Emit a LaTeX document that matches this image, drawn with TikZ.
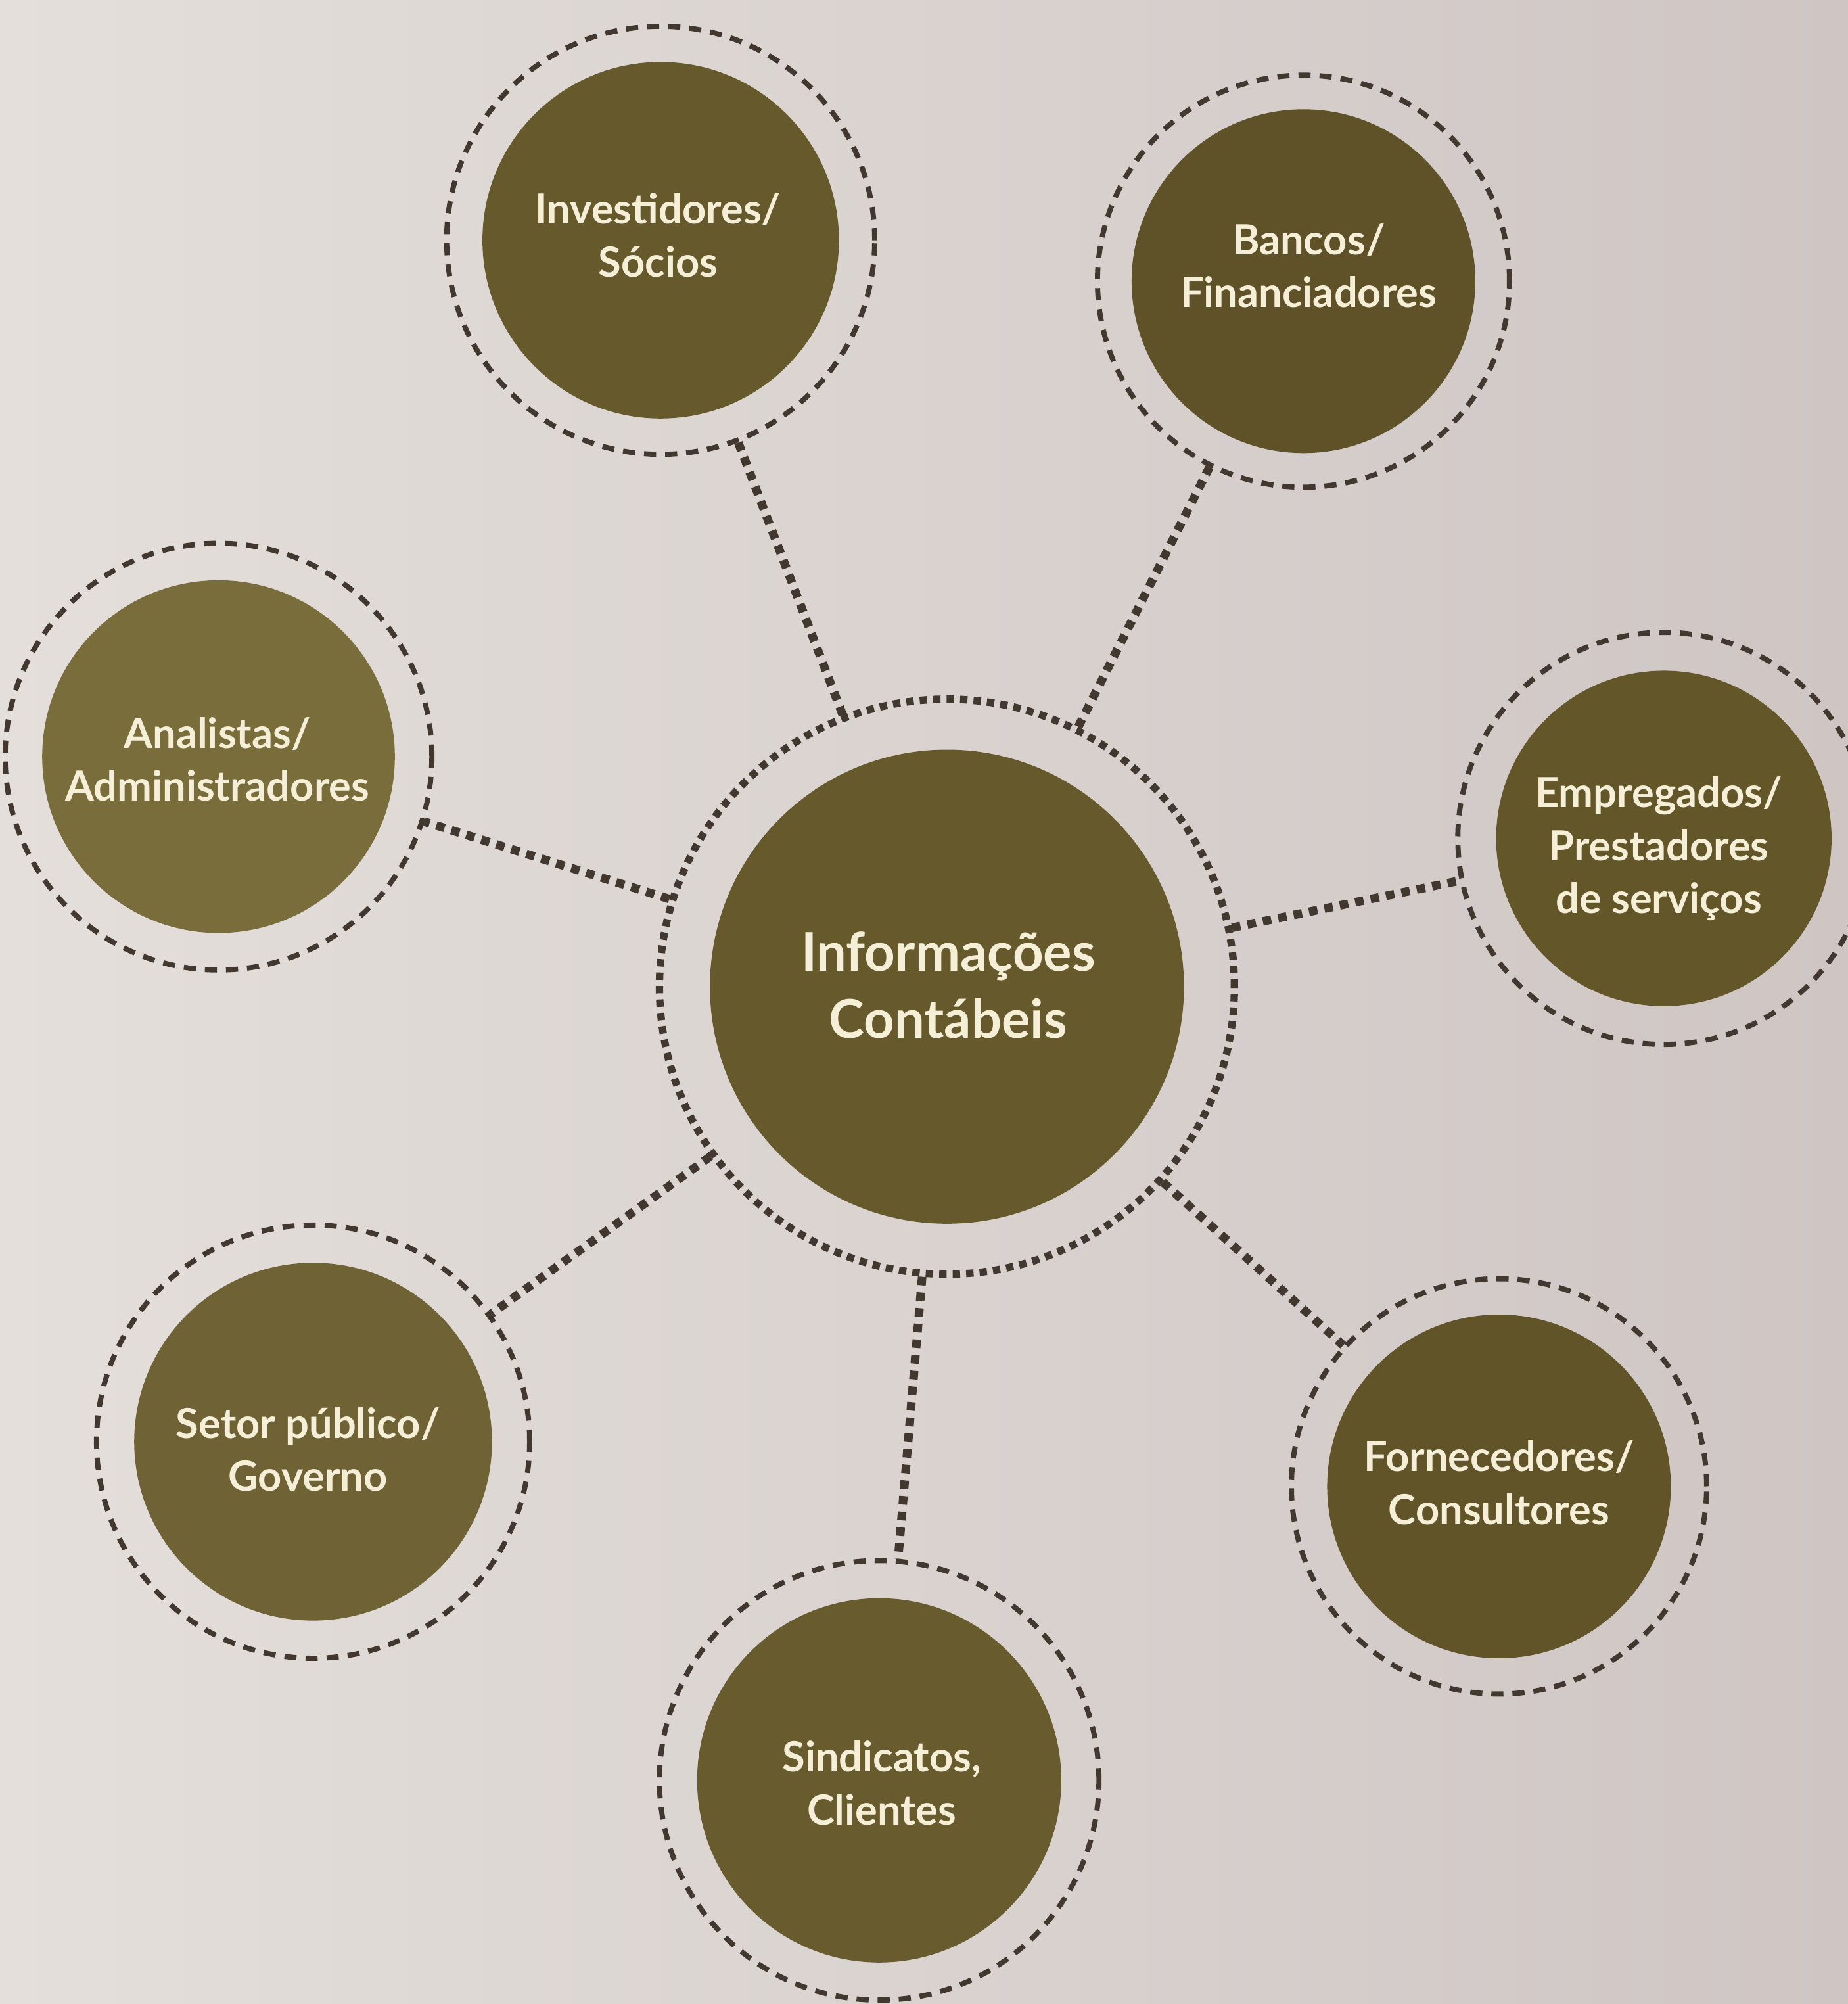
\documentclass[tikz,border=0pt]{standalone}
\usepackage{fontspec}
\setmainfont{Lato}

\definecolor{paperL}{RGB}{228,223,219}
\definecolor{paperR}{RGB}{207,198,196}
\definecolor{ink}{RGB}{66,56,48}
\definecolor{cream}{RGB}{246,239,216}
\definecolor{oliveA}{RGB}{102,89,44}
\definecolor{oliveB}{RGB}{95,82,40}
\definecolor{oliveC}{RGB}{122,109,60}
\definecolor{oliveD}{RGB}{99,86,41}
\definecolor{oliveE}{RGB}{111,98,52}
\definecolor{oliveF}{RGB}{97,84,41}
\definecolor{oliveG}{RGB}{104,91,45}
\definecolor{oliveH}{RGB}{102,89,43}

\begin{document}
\begin{tikzpicture}[x=0.02cm, y=-0.02cm,
  hub/.style={circle, fill=#1, minimum size=7.42cm, inner sep=0pt},
  hubring/.style={circle, draw=ink, line width=3.3pt,
    dash pattern=on 3.3pt off 2.7pt, minimum size=9cm, inner sep=0pt},
  party/.style={circle, fill=#1, inner sep=0pt},
  partyring/.style={circle, draw=ink, line width=2.3pt,
    dash pattern=on 5.4pt off 4pt, inner sep=0pt},
  hubtext/.style={text=cream, align=center, inner sep=0pt,
    font=\fontsize{23.8}{29.8}\bfseries\selectfont},
  partytext/.style={text=cream, align=center, inner sep=0pt,
    font=\fontsize{18.5}{23.5}\bfseries\selectfont},
  link/.style={draw=ink, line width=3.8pt, dash pattern=on 3.8pt off 3.2pt}
]
% paper
\shade[left color=paperL, right color=paperR] (0,0) rectangle (1446,1568);
\useasboundingbox (0,0) rectangle (1446,1568);

% central hub
\node[hub=oliveH] (info) at (741,772) {};
\node[hubring] (infoR) at (info) {};
\node[hubtext] (infoT) at (742,771) {Informações\\Contábeis};

% surrounding parties
\node[party=oliveA, minimum size=5.58cm] (inv) at (517,188) {};
\node[partyring, minimum size=6.7cm] (invR) at (inv) {};
\node[partytext] (invT) at (515,184) {Investidores/\\Sócios};

\node[party=oliveB, minimum size=5.38cm] (ban) at (1020,220) {};
\node[partyring, minimum size=6.45cm] (banR) at (ban) {};
\node[partytext] (banT) at (1024,208) {Bancos/\\Financiadores};

\node[party=oliveC, minimum size=5.52cm] (ana) at (171,592) {};
\node[partyring, minimum size=6.68cm] (anaR) at (ana) {};
\node[partytext] (anaT) at (170,594) {Analistas/\\Administradores};

\node[party=oliveD, minimum size=5.25cm] (emp) at (1302,656) {};
\node[partyring, minimum size=6.45cm] (empR) at (emp) {};
\node[partytext] (empT) at (1298,664) {Empregados/\\Prestadores\\de serviços};

\node[party=oliveE, minimum size=5.6cm] (set) at (245,1128) {};
\node[partyring, minimum size=6.78cm] (setR) at (set) {};
\node[partytext] (setT) at (241,1134) {Setor público/\\Governo};

\node[party=oliveF, minimum size=5.38cm] (for) at (1173,1163) {};
\node[partyring, minimum size=6.5cm] (forR) at (for) {};
\node[partytext] (forT) at (1173,1160) {Fornecedores/\\Consultores};

\node[party=oliveG, minimum size=5.7cm] (sin) at (688,1393) {};
\node[partyring, minimum size=6.88cm] (sinR) at (sin) {};
\node[partytext] (sinT) at (690,1395) {Sindicatos,\\Clientes};

% connectors
\foreach \p in {invR, banR, anaR, empR, setR, forR, sinR}
  \path[link] (infoR) -- (\p);
\end{tikzpicture}
\end{document}
